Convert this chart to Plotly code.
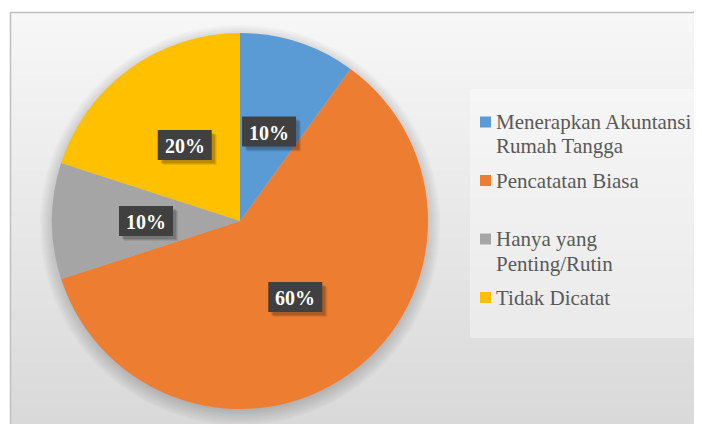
import math
import plotly.graph_objects as go

categories = ["Menerapkan Akuntansi<br>Rumah Tangga", "Pencatatan Biasa",
              "Hanya yang<br>Penting/Rutin", "Tidak Dicatat"]
values = [10, 60, 10, 20]
colors = ["#5B9BD5", "#ED7D31", "#A5A5A5", "#FFC000"]

W, H = 702, 424
OFF = 8  # page body margin offset


def px(x):
    return (x - OFF) / W


def py(y):
    return 1 - (y - OFF) / H


cx, cy, R = 240, 221, 188

fig = go.Figure()
fig.add_trace(go.Pie(
    labels=[c.replace("<br>", " ") for c in categories], values=values, sort=False,
    direction="clockwise", rotation=0,
    marker=dict(colors=colors, line=dict(width=0)),
    textinfo="none", hoverinfo="label+percent",
    domain=dict(x=[px(cx - R), px(cx + R)], y=[py(cy + R), py(cy - R)]),
))

shapes = []
# chart area gradient
top_c, bot_c = 247, 217
n = 60
y0 = 12
for i in range(n):
    ya = y0 + (H - y0) * i / n
    yb = y0 + (H - y0) * (i + 1) / n + 0.5
    c = round(top_c + (bot_c - top_c) * (i + 0.5) / n)
    shapes.append(dict(type="rect", xref="paper", yref="paper", layer="below",
                       x0=px(10), x1=px(720), y0=py(yb + 8), y1=py(ya),
                       fillcolor=f"rgb({c},{c},{c})", line=dict(width=0)))
# soft shadow behind pie
for k in range(8):
    rr = R + 12 - k * 2
    shapes.append(dict(type="circle", xref="paper", yref="paper", layer="below",
                       x0=px(cx - rr), x1=px(cx + rr),
                       y0=py(cy + 4 + rr), y1=py(cy + 4 - rr),
                       fillcolor="rgba(0,0,0,0.022)", line=dict(width=0)))
# border
shapes.append(dict(type="line", xref="paper", yref="paper", x0=px(10.5), x1=px(10.5),
                   y0=py(440), y1=py(12), line=dict(color="#BFBFBF", width=1.5)))
shapes.append(dict(type="line", xref="paper", yref="paper", x0=px(10), x1=px(720),
                   y0=py(12.5), y1=py(12.5), line=dict(color="#BFBFBF", width=1.5)))
# legend box
shapes.append(dict(type="rect", xref="paper", yref="paper", layer="below",
                   x0=px(470), x1=px(720), y0=py(338), y1=py(89),
                   fillcolor="rgba(255,255,255,0.35)", line=dict(width=0)))

annotations = []
# data labels in dark boxes at half radius of each slice's mid-angle
total = sum(values)
cum = 0
bw, bh = 54, 30
for v in values:
    mid = (cum + v / 2) / total * 2 * math.pi
    cum += v
    lx = cx + 0.5 * R * math.sin(mid)
    ly = cy - 0.5 * R * math.cos(mid)
    txt = f"{round(v / total * 100)}%"
    # drop shadow
    for s, a in ((5, 0.08), (4, 0.10), (3, 0.12)):
        shapes.append(dict(type="rect", xref="paper", yref="paper",
                           x0=px(lx - bw / 2 + s), x1=px(lx + bw / 2 + s),
                           y0=py(ly + bh / 2 + s), y1=py(ly - bh / 2 + s),
                           fillcolor=f"rgba(0,0,0,{a})", line=dict(width=0)))
    shapes.append(dict(type="rect", xref="paper", yref="paper",
                       x0=px(lx - bw / 2), x1=px(lx + bw / 2),
                       y0=py(ly + bh / 2), y1=py(ly - bh / 2),
                       fillcolor="#404040", line=dict(width=0)))
    annotations.append(dict(xref="paper", yref="paper", x=px(lx), y=py(ly + 1),
                            xanchor="center", yanchor="middle",
                            text=f"<b>{txt}</b>", showarrow=False,
                            font=dict(family="Liberation Serif", size=20, color="white")))

# legend (drawn from categories / colors)
leg_x_marker, leg_x_text = 480, 494
leg_y0, leg_pitch, line_h = 122, 58.5, 24.5
for i, (cat, col) in enumerate(zip(categories, colors)):
    ey = leg_y0 + leg_pitch * i
    shapes.append(dict(type="rect", xref="paper", yref="paper",
                       x0=px(leg_x_marker), x1=px(leg_x_marker + 11),
                       y0=py(ey + 5.5), y1=py(ey - 5.5),
                       fillcolor=col, line=dict(width=0)))
    for j, line in enumerate(cat.split("<br>")):
        annotations.append(dict(xref="paper", yref="paper", x=px(leg_x_text),
                                y=py(ey + j * line_h), xanchor="left", yanchor="middle",
                                text=line, showarrow=False,
                                font=dict(family="Liberation Serif", size=21, color="#595959")))

fig.update_layout(
    width=W, height=H, margin=dict(l=0, r=0, t=0, b=0),
    paper_bgcolor="white", plot_bgcolor="white",
    shapes=shapes, annotations=annotations,
    showlegend=False,
)
fig.write_html("out.html")
